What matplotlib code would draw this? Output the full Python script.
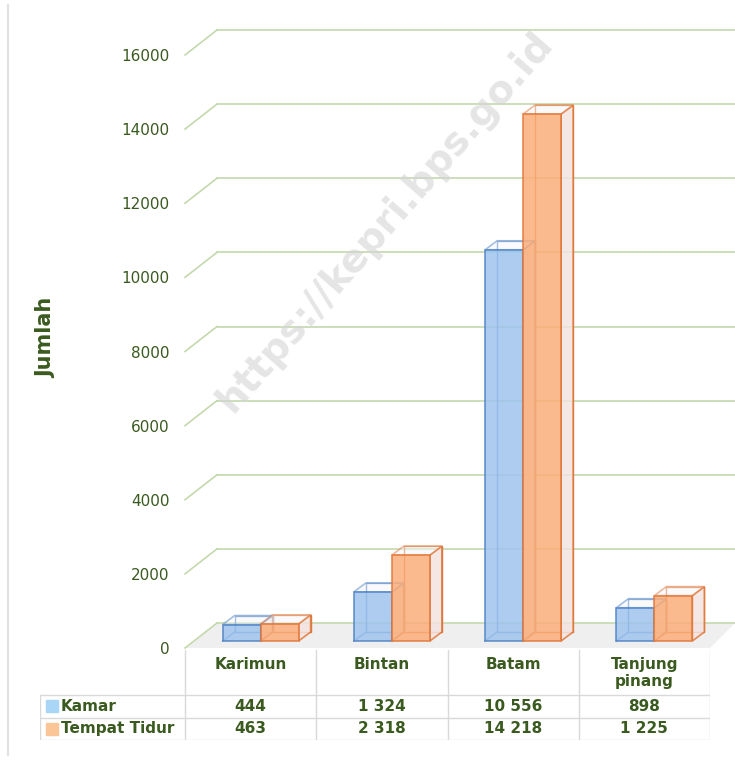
import matplotlib.pyplot as plt
from matplotlib.patches import Polygon, Rectangle
from matplotlib.lines import Line2D

categories = ['Karimun', 'Bintan', 'Batam', 'Tanjung\npinang']
kamar = [444, 1324, 10556, 898]
tempat_tidur = [463, 2318, 14218, 1225]
series_names = ['Kamar', 'Tempat Tidur']
yticks = [0, 2000, 4000, 6000, 8000, 10000, 12000, 14000, 16000]

TXT = '#3a5a1f'
GRID = '#c4d9ad'
LINE = '#d9d9d9'
face_cols = ['#9fc4ee', '#fbae7a']
edge_cols = ['#4d82c4', '#e0773a']
legend_cols = ['#a9d6f7', '#fcc597']

plt.rcParams['font.family'] = ['DejaVu Sans']

W, H = 735, 760
fig = plt.figure(figsize=(W / 100, H / 100), dpi=100)

# main plot area: front plane, x from 185 to 710 px, value 0 at y=648, 16000 at y=55
ax = fig.add_axes([185 / W, 112 / H, 525 / W, 593 / H])
ax.set_xlim(-0.5, 3.5)
ax.set_ylim(0, 16000)
for s in ax.spines.values():
    s.set_visible(False)
ax.set_xticks([])
ax.set_yticks(yticks)
ax.tick_params(axis='y', length=0, pad=11, labelsize=11, labelcolor=TXT)
ax.set_ylabel('Jumlah', fontsize=15, fontweight='bold', color=TXT)
ax.yaxis.set_label_coords(-0.245, 0.523)

PXX = 131.25          # px per category
PXY = 593 / 16000     # px per value unit
def dx(p):
    return p / PXX
def dy(p):
    return p / PXY

# walls depth
WX, WY = dx(32), dy(25)
xr = 3.5 + dx(25) - WX

# floor
ax.add_patch(Polygon([(-0.5, 0), (3.5, 0), (xr + WX, WY), (-0.5 + WX, WY)],
                     closed=True, facecolor='#efefef', edgecolor='none',
                     clip_on=False, zorder=1))

# gridlines: left diagonal + back horizontal
for v in yticks:
    ax.add_line(Line2D([-0.5, -0.5 + WX], [v, v + WY], color=GRID, lw=1.2,
                       clip_on=False, zorder=2))
    ax.add_line(Line2D([-0.5 + WX, xr + WX], [v + WY, v + WY], color=GRID,
                       lw=1.2, clip_on=False, zorder=2))

# bars as boxes
bw = dx(38)
fx, fy = dx(10), dy(7)
bx, by = dx(12), dy(9)


def draw_box(x0, y0, h, face, edge, z):
    kw = dict(clip_on=False, zorder=z)
    # back edges
    ax.add_patch(Rectangle((x0 + bx, y0 + by), bw, h, facecolor='none',
                           edgecolor=edge, lw=1, **kw))
    ax.add_line(Line2D([x0, x0 + bx], [y0, y0 + by], color=edge, lw=1, **kw))
    # right side
    ax.add_patch(Polygon([(x0 + bw, y0), (x0 + bw + bx, y0 + by),
                          (x0 + bw + bx, y0 + by + h), (x0 + bw, y0 + h)],
                         closed=True, facecolor='#f3e3e0', alpha=0.85,
                         edgecolor=edge, lw=1.2, **kw))
    # top
    ax.add_patch(Polygon([(x0, y0 + h), (x0 + bx, y0 + by + h),
                          (x0 + bw + bx, y0 + by + h), (x0 + bw, y0 + h)],
                         closed=True, facecolor='#f7f7fb', alpha=0.5,
                         edgecolor=edge, lw=1.2, **kw))
    # front
    ax.add_patch(Rectangle((x0, y0), bw, h, facecolor=face, alpha=0.85,
                           edgecolor=edge, lw=1.2, **kw))


for i in range(len(categories)):
    for s, vals in enumerate([kamar, tempat_tidur]):
        x0 = i - bw + s * bw + fx
        draw_box(x0, fy, vals[i], face_cols[s], edge_cols[s], 5 + i * 2 + s)

# data table
lab_w = dx(145)
tab = fig.add_axes([40 / W, (760 - 740) / H, 670 / W, 90 / H])
tab.set_xlim(-0.5 - lab_w, 3.5)
tab.set_ylim(4, 0)
tab.axis('off')

for k in range(5):
    tab.plot([-0.5 + k, -0.5 + k], [0, 4], color=LINE, lw=1)
tab.plot([-0.5 - lab_w] * 2, [2, 4], color=LINE, lw=1)
for r in [2, 3, 4]:
    tab.plot([-0.5 - lab_w, 3.5], [r, r], color=LINE, lw=1)

for i, c in enumerate(categories):
    tab.text(i, 0.3, c, ha='center', va='top', fontsize=11,
             fontweight='bold', color=TXT, linespacing=1.15)
    for s, vals in enumerate([kamar, tempat_tidur]):
        tab.text(i, 2.5 + s, f'{vals[i]:,}'.replace(',', ' '), ha='center',
                 va='center', fontsize=11, fontweight='bold', color=TXT)

for s, name in enumerate(series_names):
    tab.plot([-0.5 - lab_w + dx(12)], [2.5 + s], marker='s', markersize=8,
             color=legend_cols[s], clip_on=False)
    tab.text(-0.5 - lab_w + dx(21), 2.5 + s, name, ha='left', va='center',
             fontsize=11, fontweight='bold', color=TXT)

# left border line
fig.add_artist(Line2D([8 / W, 8 / W], [5 / H, 755 / H], color='#e0e0e0',
                      lw=1.5))

# watermark
fig.text(385 / W, 1 - 222 / H, 'https://kepri.bps.go.id', rotation=49,
         ha='center', va='center', fontsize=28, fontweight='bold',
         color='#d4d4d4', alpha=0.6, rotation_mode='anchor', zorder=20)

fig.savefig('out.png', dpi=100)
